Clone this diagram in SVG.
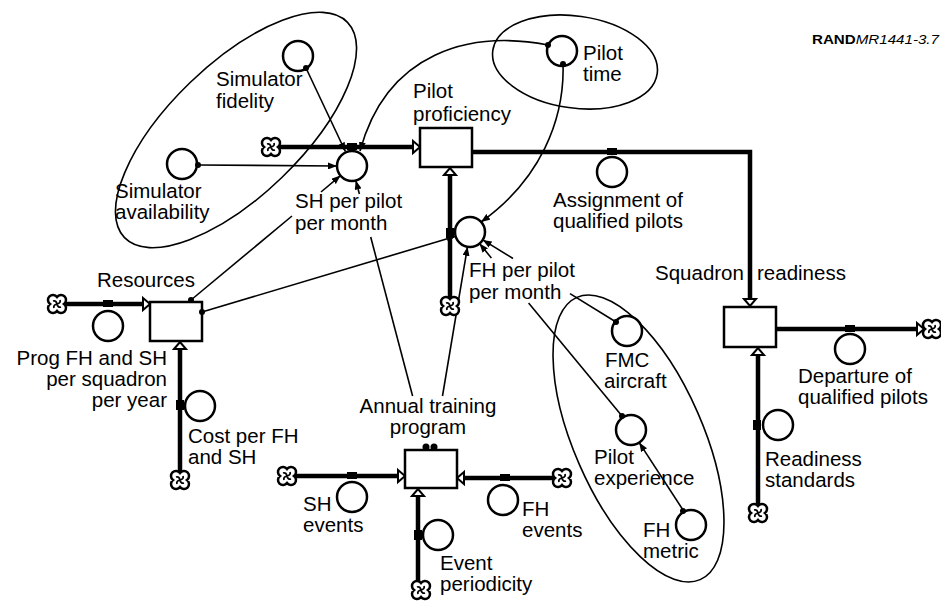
<svg xmlns="http://www.w3.org/2000/svg" xmlns:xlink="http://www.w3.org/1999/xlink" width="941" height="602" viewBox="0 0 941 602">
<style>
text{font-family:"Liberation Sans",Arial,sans-serif;font-size:20.5px;fill:#000}
.aux{fill:#fff;stroke:#000;stroke-width:2.5}
.stock{fill:#fff;stroke:#000;stroke-width:2.5}
.pipe{fill:none;stroke:#000;stroke-width:4.5}
.conn{fill:none;stroke:#000;stroke-width:1.6}
.arr{marker-end:url(#ah)}
.grp{fill:none;stroke:#000;stroke-width:1.6}
.head{fill:#fff;stroke:#000;stroke-width:2}
.valve{fill:#000}
.dot{fill:#000}
</style>
<defs>
<marker id="ah" markerUnits="userSpaceOnUse" markerWidth="9" markerHeight="7" refX="9" refY="3.5" orient="auto">
<path d="M0,0 L9,3.5 L0,7 z" fill="#000"/>
</marker>
<g id="cloud">
<path d="M0,-7 A5,5 0 1,1 7,0 A5,5 0 1,1 0,7 A5,5 0 1,1 -7,0 A5,5 0 1,1 0,-7 Z" fill="#fff" stroke="#000" stroke-width="2.5"/>
<path d="M0,0 Q-1,-4 -4,-3 M0,0 Q4,-1 3,-4 M0,0 Q1,4 4,3 M0,0 Q-4,1 -3,4" fill="none" stroke="#000" stroke-width="1.8"/>
</g>
</defs>
<rect width="941" height="602" fill="#fff"/>

<g id="groupings">
<ellipse class="grp" cx="236" cy="130" rx="155" ry="66" transform="rotate(-44 236 130)"/>
<ellipse class="grp" cx="575" cy="62" rx="83" ry="46" transform="rotate(8 575 62)"/>
<ellipse class="grp" cx="638.5" cy="438.5" rx="154" ry="64.6" transform="rotate(66.4 638.5 438.5)"/>
</g>

<g id="connectors">
<!-- information connectors -->
<path class="conn arr" d="M548,45 C470,30 387,52 360,151"/>
<path class="conn arr" d="M563,63 C565,120 540,180 481,222"/>
<path class="conn arr" d="M306,68 L345.4,151.5"/>
<path class="conn arr" d="M198,165 L337,166"/>
<path class="conn" d="M191,300 L292,216"/>
<path class="conn arr" d="M321,192 L340.5,175.6"/>
<path class="conn" d="M412.6,396 L370.7,237"/>
<path class="conn arr" d="M359.4,194 L355.8,180.5"/>
<path class="conn arr" d="M442.5,396 L467.5,246.8"/>
<path class="conn arr" d="M202,312 L455.6,236.3"/>
<path class="conn" d="M616,322 L570,293.6"/>
<path class="conn arr" d="M513,258.5 L482.8,239.9"/>
<path class="conn" d="M622,416 L528.6,303"/>
<path class="conn arr" d="M491.4,258 L479.5,243.6"/>
<path class="conn arr" d="M683,510 L639.2,442.6"/>
<!-- flow pipes -->
<path class="pipe" d="M279,147 L413,147"/>
<path class="pipe" d="M472,152 L750,152 L750,299"/>
<path class="pipe" d="M450,298 L450,175"/>
<path class="pipe" d="M776,329 L917,329"/>
<path class="pipe" d="M758,505 L758,355"/>
<path class="pipe" d="M65,304 L143,304"/>
<path class="pipe" d="M180,472 L180,349"/>
<path class="pipe" d="M295,476 L398,476"/>
<path class="pipe" d="M554,478 L464,478"/>
<path class="pipe" d="M418,582 L418,496"/>
<!-- flow arrowheads -->
<polygon class="head" points="413,141 420,147 413,153"/>
<polygon class="head" points="744,299 750,306 756,299"/>
<polygon class="head" points="444,175 450,168 456,175"/>
<polygon class="head" points="917,323 924,329 917,335"/>
<polygon class="head" points="752,355 758,348 764,355"/>
<polygon class="head" points="143,298 150,304 143,310"/>
<polygon class="head" points="174,349 180,342 186,349"/>
<polygon class="head" points="398,470 405,476 398,482"/>
<polygon class="head" points="464,472 457,478 464,484"/>
<polygon class="head" points="412,496 418,489 424,496"/>
<!-- clouds -->
<use xlink:href="#cloud" x="271" y="147"/>
<use xlink:href="#cloud" x="450" y="306"/>
<use xlink:href="#cloud" x="932" y="329"/>
<use xlink:href="#cloud" x="758" y="513"/>
<use xlink:href="#cloud" x="57" y="304"/>
<use xlink:href="#cloud" x="180" y="480"/>
<use xlink:href="#cloud" x="287" y="476"/>
<use xlink:href="#cloud" x="562" y="478"/>
<use xlink:href="#cloud" x="421" y="590"/>
</g>

<g id="pilot-proficiency">
<rect class="stock" x="420" y="128" width="52" height="39"/>
<text x="413" y="98">Pilot</text>
<text x="413" y="121">proficiency</text>
</g>
<g id="squadron-readiness">
<rect class="stock" x="724" y="307" width="52" height="40"/>
<text x="655" y="280">Squadron</text>
<text x="757" y="280">readiness</text>
</g>
<g id="resources">
<rect class="stock" x="150" y="302" width="52" height="39"/>
<circle class="dot" cx="191" cy="300" r="3"/>
<circle class="dot" cx="202" cy="312" r="3"/>
<text x="97" y="287">Resources</text>
</g>
<g id="annual-training-program">
<rect class="stock" x="405" y="450" width="52" height="38"/>
<circle class="dot" cx="426" cy="447" r="3.5"/>
<circle class="dot" cx="434" cy="447" r="3.5"/>
<text x="428" y="413" text-anchor="middle">Annual training</text>
<text x="428" y="434" text-anchor="middle">program</text>
</g>

<g id="sh-per-pilot-per-month">
<rect class="valve" x="347" y="143" width="10" height="7"/>
<circle class="aux" cx="352" cy="166" r="15"/>
<text x="295" y="208">SH per pilot</text>
<text x="295" y="230">per month</text>
</g>
<g id="fh-per-pilot-per-month">
<rect class="valve" x="446" y="228" width="8" height="10"/>
<circle class="aux" cx="470" cy="232" r="15"/>
<text x="469" y="277">FH per pilot</text>
<text x="469" y="299">per month</text>
</g>
<g id="assignment-of-qualified-pilots">
<rect class="valve" x="607" y="148" width="10" height="7"/>
<circle class="aux" cx="612" cy="172" r="15"/>
<text x="553" y="207">Assignment of</text>
<text x="553" y="228">qualified pilots</text>
</g>
<g id="departure-of-qualified-pilots">
<rect class="valve" x="845" y="325" width="10" height="7"/>
<circle class="aux" cx="850" cy="349" r="15"/>
<text x="798" y="383">Departure of</text>
<text x="798" y="404">qualified pilots</text>
</g>
<g id="readiness-standards">
<rect class="valve" x="753" y="420" width="8" height="10"/>
<circle class="aux" cx="778" cy="425" r="15"/>
<text x="765" y="466">Readiness</text>
<text x="765" y="487">standards</text>
</g>
<g id="prog-fh-and-sh">
<rect class="valve" x="103" y="300" width="10" height="7"/>
<circle class="aux" cx="108" cy="326" r="15"/>
<text x="167" y="365" text-anchor="end">Prog FH and SH</text>
<text x="167" y="386" text-anchor="end">per squadron</text>
<text x="167" y="407" text-anchor="end">per year</text>
</g>
<g id="cost-per-fh-and-sh">
<rect class="valve" x="176" y="400" width="8" height="10"/>
<circle class="aux" cx="200" cy="406" r="15"/>
<text x="188" y="443">Cost per FH</text>
<text x="188" y="464">and SH</text>
</g>
<g id="sh-events">
<rect class="valve" x="347" y="472" width="10" height="7"/>
<circle class="aux" cx="352" cy="497" r="15"/>
<text x="303" y="511">SH</text>
<text x="303" y="532">events</text>
</g>
<g id="fh-events">
<rect class="valve" x="500" y="474" width="10" height="7"/>
<circle class="aux" cx="503" cy="500" r="15"/>
<text x="522" y="516">FH</text>
<text x="522" y="537">events</text>
</g>
<g id="event-periodicity">
<rect class="valve" x="414" y="530" width="8" height="10"/>
<circle class="aux" cx="438" cy="535" r="15"/>
<text x="440" y="570">Event</text>
<text x="440" y="591">periodicity</text>
</g>

<g id="simulator-fidelity">
<circle class="aux" cx="298" cy="56" r="15"/>
<circle class="dot" cx="306" cy="68" r="3"/>
<text x="216" y="86">Simulator</text>
<text x="216" y="108">fidelity</text>
</g>
<g id="simulator-availability">
<circle class="aux" cx="182" cy="164" r="15"/>
<circle class="dot" cx="198" cy="165" r="3"/>
<text x="115" y="198">Simulator</text>
<text x="115" y="219">availability</text>
</g>
<g id="pilot-time">
<circle class="aux" cx="562" cy="51" r="15"/>
<circle class="dot" cx="548" cy="45" r="3"/>
<circle class="dot" cx="563" cy="64" r="3"/>
<text x="583" y="60">Pilot</text>
<text x="583" y="81">time</text>
</g>
<g id="fmc-aircraft">
<circle class="aux" cx="627" cy="331" r="15"/>
<circle class="dot" cx="616" cy="322" r="3"/>
<text x="605" y="367">FMC</text>
<text x="604" y="388">aircraft</text>
</g>
<g id="pilot-experience">
<circle class="aux" cx="631" cy="430" r="15"/>
<circle class="dot" cx="622" cy="416" r="3"/>
<text x="594" y="464">Pilot</text>
<text x="594" y="485">experience</text>
</g>
<g id="fh-metric">
<circle class="aux" cx="691" cy="525" r="15"/>
<circle class="dot" cx="683" cy="511" r="3"/>
<text x="643" y="537">FH</text>
<text x="643" y="558">metric</text>
</g>

<text x="812" y="44" style="font-size:13px" textLength="127" lengthAdjust="spacingAndGlyphs"><tspan font-weight="bold">RAND</tspan><tspan font-style="italic">MR1441-3.7</tspan></text>
</svg>
